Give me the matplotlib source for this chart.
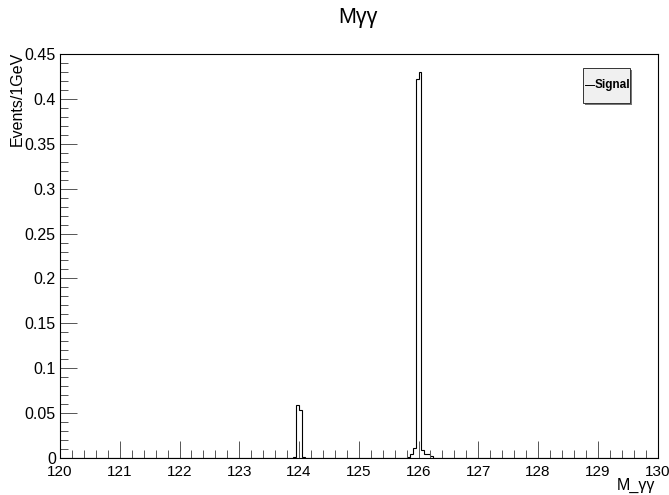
import numpy as np
import matplotlib
matplotlib.use("Agg")
import matplotlib.pyplot as plt
from matplotlib.patches import Rectangle
from matplotlib.lines import Line2D
from matplotlib.ticker import MultipleLocator, FormatStrFormatter

plt.rcParams['font.family'] = ['Liberation Sans', 'DejaVu Sans']

# Histogram binning: 200 bins of 0.05 GeV between 120 and 130 GeV
x_min, x_max, bin_width = 120.0, 130.0, 0.05

# Non-empty bins (lower edge in GeV) and their contents
bin_low = [123.90, 123.95, 124.00, 124.05,
           125.80, 125.85, 125.90, 125.95, 126.00, 126.05, 126.10, 126.15, 126.20]
bin_content = [0.0015, 0.059, 0.0535, 0.001,
               0.0015, 0.005, 0.011, 0.422, 0.4295, 0.009, 0.005, 0.005, 0.002]

x_ticks = [120, 121, 122, 123, 124, 125, 126, 127, 128, 129, 130]
y_ticks = [0, 0.05, 0.1, 0.15, 0.2, 0.25, 0.3, 0.35, 0.4, 0.45]

edges = np.linspace(x_min, x_max, int(round((x_max - x_min) / bin_width)) + 1)
counts = np.zeros(len(edges) - 1)
for lo, c in zip(bin_low, bin_content):
    counts[int(round((lo - x_min) / bin_width))] = c

W, H = 669, 495
fig = plt.figure(figsize=(W / 100, H / 100), dpi=100)
ax = fig.add_axes([60 / W, 37 / H, (657.5 - 60) / W, (458 - 54) / H])

ax.stairs(counts, edges, color='black', lw=0.8)

ax.set_xlim(x_min, x_max)
ax.set_ylim(0, 0.45)
ax.set_xticks(x_ticks)
ax.set_yticks(y_ticks)
ax.xaxis.set_minor_locator(MultipleLocator(0.2))
ax.yaxis.set_minor_locator(MultipleLocator(0.01))
ax.yaxis.set_major_formatter(FormatStrFormatter('%g'))
ax.tick_params(which='both', direction='in', top=False, right=False,
               width=0.7, color='#555555')
ax.tick_params(which='major', length=12)
ax.tick_params(which='minor', length=6)
ax.tick_params(axis='x', pad=5, labelsize=11)
ax.tick_params(axis='y', pad=3, labelsize=11.5)
for s in ax.spines.values():
    s.set_linewidth(0.8)

fig.text(358 / W, 1 - 18 / H, 'Mγγ', ha='center', va='center', fontsize=15.5)
fig.text(17 / W, 1 - 52 / H, 'Events/1GeV', rotation=90, ha='center', va='top',
         fontsize=11.5)
fig.text(655 / W, 1 - 485 / H, 'M_γγ', ha='right', va='center', fontsize=11.5)

# Legend box with a thin drop shadow
lx0, lx1, ly0, ly1 = 583, 630, 68, 103
fig.patches.append(Rectangle((lx0 / W + 1.5 / W, 1 - ly1 / H - 1.5 / H),
                             (lx1 - lx0) / W, (ly1 - ly0) / H,
                             transform=fig.transFigure, facecolor='#777777',
                             edgecolor='none', zorder=5))
fig.patches.append(Rectangle((lx0 / W, 1 - ly1 / H), (lx1 - lx0) / W, (ly1 - ly0) / H,
                             transform=fig.transFigure, facecolor='#f0f0f0',
                             edgecolor='#333333', lw=0.7, zorder=6))
ly = 1 - 85 / H
fig.lines.append(Line2D([585 / W, 594 / W], [ly, ly], transform=fig.transFigure,
                        color='black', lw=0.7, zorder=7))
fig.text(594.5 / W, ly, 'Signal', ha='left', va='center', fontsize=8.5,
         fontweight='bold', zorder=7)

fig.savefig('out.png', dpi=100)
